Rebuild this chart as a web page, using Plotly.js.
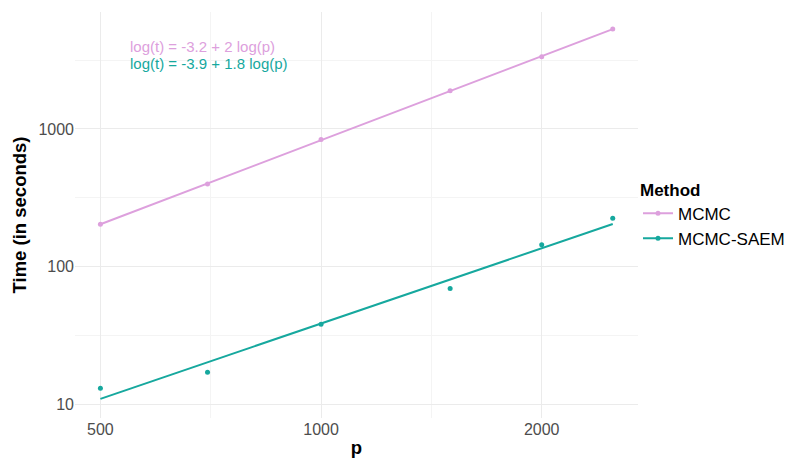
<!DOCTYPE html>
<html>
<head>
<meta charset="utf-8">
<script src="https://cdn.plot.ly/plotly-3.0.1.min.js"></script>
<style>html,body{margin:0;padding:0;background:#fff}#chart{width:788px;height:460px}</style>
</head>
<body>
<div id="chart"></div>
<script>
// ---- data ----
const methods = ["MCMC", "MCMC-SAEM"];
const pValues = [500, 700, 1000, 1500, 2000, 2500];
const timeMCMC = [203, 398, 839, 1892, 3343, 5309];
const timeSAEM = [13.1, 17.1, 38.1, 69.2, 144, 224];
const fitLabels = ["log(t) = -3.2 + 2 log(p)", "log(t) = -3.9 + 1.8 log(p)"];
const xTicks = [500, 1000, 2000];
const yTicks = [10, 100, 1000];
const xMinor = [707.1, 1414.2];
const yMinor = [31.62, 316.2, 3162];

const colors = ["#DDA0DD", "#16A89E"];
const series = [timeMCMC, timeSAEM];

// least squares fit in log10-log10 space (like geom_smooth(method = "lm"))
function fit(xs, ys) {
  const lx = xs.map(Math.log10), ly = ys.map(Math.log10);
  const n = lx.length;
  const mx = lx.reduce((a, b) => a + b, 0) / n;
  const my = ly.reduce((a, b) => a + b, 0) / n;
  let sxy = 0, sxx = 0;
  for (let i = 0; i < n; i++) { sxy += (lx[i] - mx) * (ly[i] - my); sxx += (lx[i] - mx) ** 2; }
  const b = sxy / sxx, a = my - b * mx;
  return xs.map(x => Math.pow(10, a + b * Math.log10(x)));
}

const FONT = "Liberation Sans, Arial, sans-serif";
const traces = [];
series.forEach((ys, i) => {
  traces.push({
    x: pValues, y: fit(pValues, ys), mode: "lines", type: "scatter",
    line: {color: colors[i], width: 2}, showlegend: false, hoverinfo: "skip"
  });
  traces.push({
    x: pValues, y: ys, mode: "markers", type: "scatter",
    marker: {color: colors[i], size: 5}, showlegend: false, name: methods[i]
  });
});
// legend keys (line + point), like ggplot
methods.forEach((m, i) => {
  traces.push({
    x: [null], y: [null], mode: "lines+markers", type: "scatter", name: m,
    line: {color: colors[i], width: 2}, marker: {color: colors[i], size: 5}
  });
});

const layout = {
  width: 788, height: 460,
  margin: {l: 75, r: 150, t: 12, b: 42},
  paper_bgcolor: "#fff", plot_bgcolor: "#fff",
  font: {family: FONT, color: "#4D4D4D"},
  xaxis: {
    type: "log", range: [2.6643, 3.4324], automargin: false,
    tickvals: xTicks, ticktext: xTicks.map(String),
    showgrid: true, gridcolor: "#EBEBEB", gridwidth: 1,
    minor: {tickvals: xMinor, showgrid: true, gridcolor: "#F4F4F4", gridwidth: 1, ticks: ""},
    zeroline: false, showline: false, ticks: "",
    tickfont: {size: 16, color: "#4D4D4D", family: FONT},
    title: {text: "<b>p</b>", font: {size: 18.5, color: "#000", family: FONT}, standoff: 4}
  },
  yaxis: {
    type: "log", range: [0.9005, 3.849], automargin: false,
    tickvals: yTicks, ticktext: yTicks.map(String),
    showgrid: true, gridcolor: "#EBEBEB", gridwidth: 1,
    minor: {tickvals: yMinor, showgrid: true, gridcolor: "#F4F4F4", gridwidth: 1, ticks: ""},
    zeroline: false, showline: false, ticks: "",
    tickfont: {size: 16, color: "#4D4D4D", family: FONT},
    title: {text: "<b>Time (in seconds)</b>", font: {size: 18.5, color: "#000", family: FONT}, standoff: 6}
  },
  legend: {
    xref: "container", yref: "container",
    x: 638 / 788, xanchor: "left", y: 1 - 215 / 460, yanchor: "middle",
    title: {text: "<b>Method</b>", font: {size: 17, color: "#000", family: FONT}},
    font: {size: 17, color: "#000", family: FONT},
    tracegroupgap: 0, itemwidth: 30, bgcolor: "rgba(0,0,0,0)"
  },
  annotations: fitLabels.map((t, i) => ({
    text: t, xref: "paper", yref: "paper", x: 0.094, y: [0.914, 0.872][i],
    xanchor: "left", yanchor: "middle", showarrow: false,
    font: {size: 15, color: colors[i], family: FONT}
  }))
};

Plotly.newPlot("chart", traces, layout, {displayModeBar: false, staticPlot: true});
</script>
</body>
</html>
